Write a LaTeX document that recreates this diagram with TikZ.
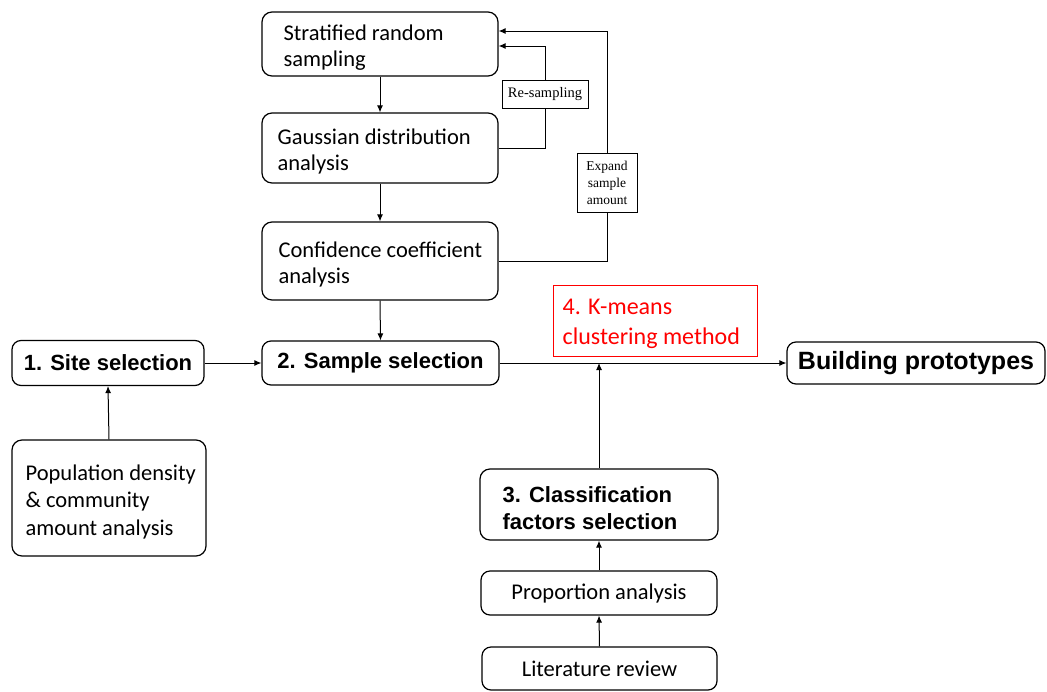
\documentclass[tikz,border=0pt]{standalone}
\usepackage{fontspec}
\setmainfont{Carlito}
\newfontfamily\arialf{Liberation Sans}
\newfontfamily\timesf{Liberation Serif}
\usetikzlibrary{arrows.meta}
\begin{document}
\begin{tikzpicture}[x=1pt,y=-1pt,
  rbox/.style={draw=black, line width=1.2pt, rounded corners=10pt, inner sep=0pt},
  txt/.style={anchor=west, inner sep=0pt, align=left, yshift=-3.5pt},
  cbox/.style={draw=black, line width=1.2pt, rounded corners=9pt, inner sep=0pt, align=center},
  sbox/.style={draw=black, line width=1pt, fill=white, inner sep=0pt, align=center, font=\timesf\fontsize{14.5}{17}\selectfont},
  arr/.style={line width=1pt, -{Latex[length=7pt,width=6pt]}},
  ln/.style={line width=1pt},
  body/.style={font=\fontsize{22.5}{26.5}\selectfont},
  boldf/.style={font=\arialf\bfseries\fontsize{22}{27}\selectfont}
]
\useasboundingbox (0,0) rectangle (1047,691);

\node[rbox, minimum width=236pt, minimum height=64pt] (strat) at (380,44) {};
\node[txt, body] (strattxt) at ([xshift=22pt]strat.west) {Stratified random\\sampling};
\node[rbox, minimum width=236pt, minimum height=70pt] (gauss) at (380,148) {};
\node[txt, body] (gausstxt) at ([xshift=16pt]gauss.west) {Gaussian distribution\\analysis};
\node[rbox, minimum width=236pt, minimum height=78pt] (conf) at (380,261) {};
\node[txt, body] (conftxt) at ([xshift=17pt]conf.west) {Confidence coefficient\\analysis};

\node[sbox, minimum width=86pt, minimum height=28pt] (resamp) at (545,94) {Re-sampling};
\node[sbox, minimum width=60pt, minimum height=59pt, font=\timesf\fontsize{13.5}{17}\selectfont] (expand) at (607,182.5) {Expand\\sample\\amount};

\node[cbox, boldf, minimum width=192pt, minimum height=45pt] (site) at (108,363) {1. Site selection};
\node[cbox, boldf, minimum width=237pt, minimum height=44pt] (sample) at (380.5,363) {2. Sample selection};
\node[cbox, font=\arialf\bfseries\fontsize{25}{28}\selectfont, minimum width=258pt, minimum height=42pt] (build) at (916,363) {Building prototypes};

\node[draw=red, line width=1pt, minimum width=204pt, minimum height=71pt, inner sep=0pt] (kmeans) at (655,320.5) {};
\node[txt, text=red, font=\fontsize{24}{30}\selectfont] (kmtxt) at ([xshift=10pt]kmeans.west) {4. K-means\\clustering method};

\node[rbox, minimum width=194pt, minimum height=116pt] (pop) at (109,498) {};
\node[txt, font=\fontsize{22.5}{27.5}\selectfont] (poptxt) at ([xshift=14pt]pop.west) {Population density\\\& community\\amount analysis};

\node[rbox, minimum width=238pt, minimum height=71pt] (class) at (599,504.5) {};
\node[txt, boldf] (classtxt) at ([xshift=23pt]class.west) {3. Classification\\factors selection};
\node[cbox, body, minimum width=236pt, minimum height=44pt] (prop) at (599,593) {Proportion analysis};
\node[cbox, body, minimum width=235pt, minimum height=43pt] (lit) at (599.5,668.5) {Literature review};

\draw[arr] (strat.south) -- (gauss.north);
\draw[arr] (gauss.south) -- (conf.north);
\draw[arr] (conf.south) -- (sample.north);

\draw[ln] (gauss.east) -| (resamp.south);
\draw[arr] (resamp.north) |- ([yshift=-2pt]strat.east);
\draw[ln] (conf.east) -| (expand.south);
\draw[arr] (expand.north) |- ([yshift=13pt]strat.east);

\draw[arr] (site.east) -- (sample.west);
\draw[arr] (pop.north) -- (site.south);
\draw[arr] (sample.east) -- (build.west);
\draw[arr] (class.north) -- (class.north |- sample.east);
\draw[arr] (prop.north) -- (class.south);
\draw[arr] (lit.north) -- (prop.south);
\end{tikzpicture}
\end{document}
